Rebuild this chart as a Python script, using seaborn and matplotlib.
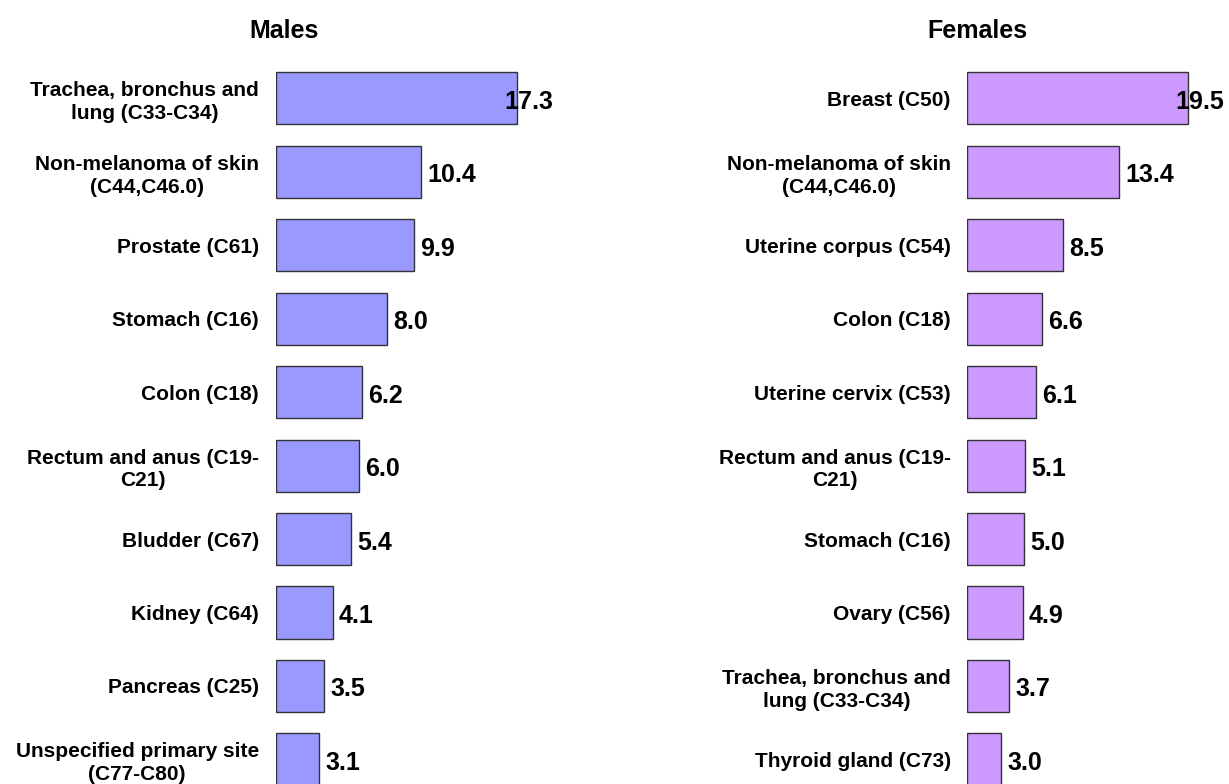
import seaborn as sns
import matplotlib.pyplot as plt

# data
male_sites = ["Trachea, bronchus and\nlung (C33-C34)", "Non-melanoma of skin\n(C44,C46.0)",
              "Prostate (C61)", "Stomach (C16)", "Colon (C18)", "Rectum and anus (C19-\nC21)",
              "Bludder (C67)", "Kidney (C64)", "Pancreas (C25)", "Unspecified primary site\n(C77-C80)"]
male_pct = [17.3, 10.4, 9.9, 8.0, 6.2, 6.0, 5.4, 4.1, 3.5, 3.1]

female_sites = ["Breast (C50)", "Non-melanoma of skin\n(C44,C46.0)", "Uterine corpus (C54)",
                "Colon (C18)", "Uterine cervix (C53)", "Rectum and anus (C19-\nC21)",
                "Stomach (C16)", "Ovary (C56)", "Trachea, bronchus and\nlung (C33-C34)",
                "Thyroid gland (C73)"]
female_pct = [19.5, 13.4, 8.5, 6.6, 6.1, 5.1, 5.0, 4.9, 3.7, 3.0]

sns.set_style("white")
plt.rcParams['font.family'] = ['Liberation Sans', 'DejaVu Sans']
plt.rcParams['font.weight'] = 'bold'
plt.rcParams['text.color'] = 'black'
plt.rcParams['ytick.color'] = 'black'
plt.rcParams['ytick.labelcolor'] = 'black'

fig = plt.figure(figsize=(12.29, 7.84), dpi=100)
top = 1 - 61.6 / 784
ax_m = fig.add_axes([275.5 / 1229, 0, 279.5 / 1229, top])
ax_f = fig.add_axes([967.3 / 1229, 0, 261.7 / 1229, top])


def draw_panel(ax, sites, pct, color, xmax):
    sns.barplot(x=pct, y=sites, orient='h', color=color, saturation=1, width=0.71,
                edgecolor='#333333', linewidth=1, ax=ax)
    ax.set_xlim(0, xmax)
    ax.set_ylim(len(sites) - 1 + 0.335, -0.5)
    for s in ax.spines.values():
        s.set_visible(False)
    ax.set_xticks([])
    ax.set_xlabel("")
    ax.set_ylabel("")
    ax.tick_params(axis='y', length=0, pad=12)
    for lab in ax.get_yticklabels():
        lab.set_fontsize(15)
        lab.set_fontweight('bold')
        lab.set_color('black')
        lab.set_multialignment('center')
        lab.set_linespacing(1.25)
    for i, v in enumerate(pct):
        dx = -9 if v == max(pct) else 4.5
        ax.annotate(f"{v:.1f}", xy=(v, i), xytext=(dx, -2.5), textcoords='offset points',
                    ha='left', va='center', fontsize=18, fontweight='bold', color='black',
                    annotation_clip=False)


draw_panel(ax_m, male_sites, male_pct, '#9999FF', 20.0)
draw_panel(ax_f, female_sites, female_pct, '#CC99FF', 23.16)

fig.text(284 / 1229, 1 - 31 / 784, "Males", ha='center', va='center', fontsize=18, fontweight='bold')
fig.text(977 / 1229, 1 - 31 / 784, "Females", ha='center', va='center', fontsize=18, fontweight='bold')

fig.savefig("out.png", dpi=100)
